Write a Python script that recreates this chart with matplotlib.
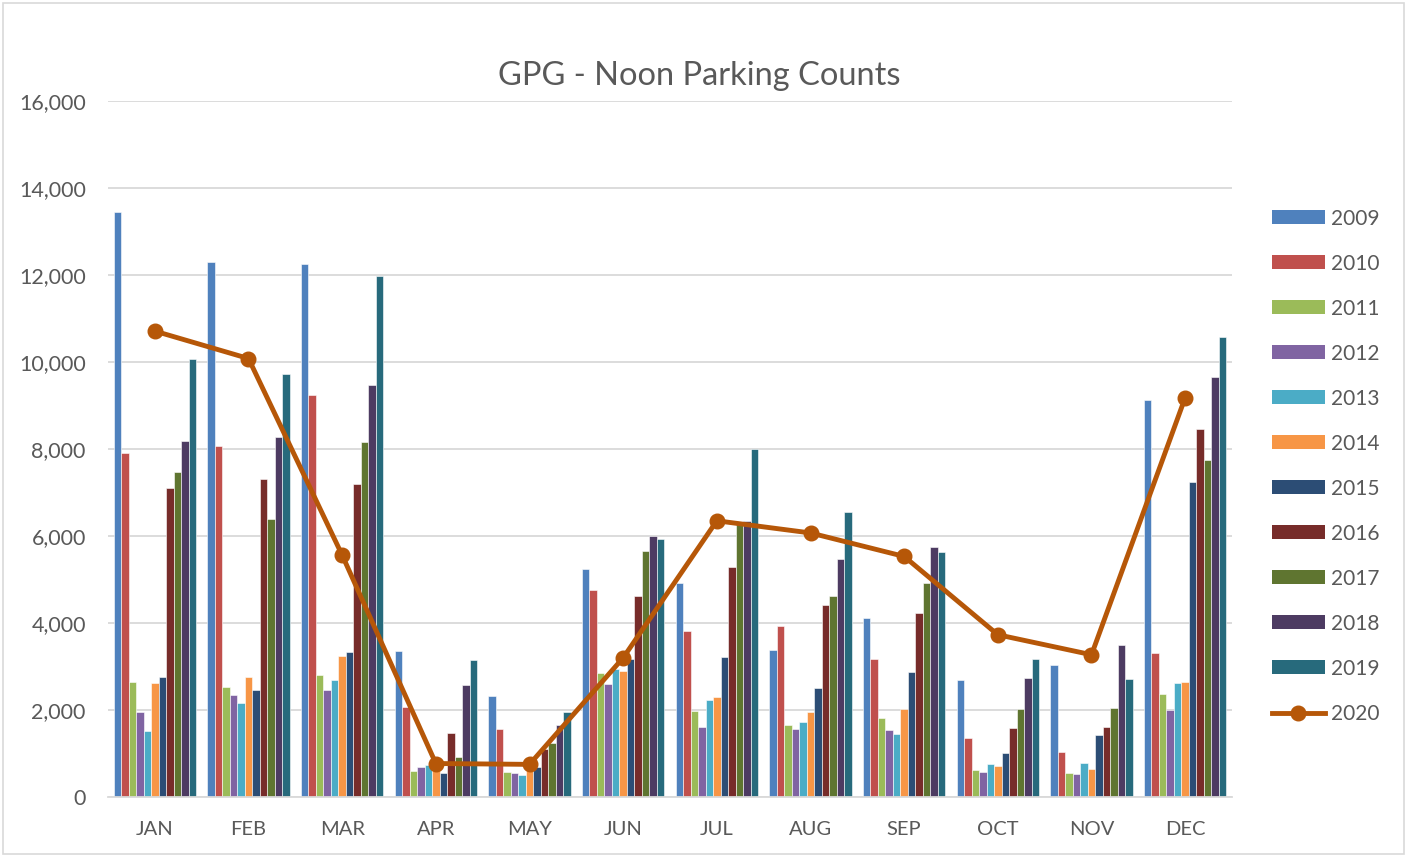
import matplotlib
matplotlib.use('Agg')
import matplotlib.pyplot as plt
from matplotlib.patches import Rectangle, Patch
from matplotlib.lines import Line2D
from matplotlib.ticker import FuncFormatter
import numpy as np

plt.rcParams['font.family'] = ['Lato', 'DejaVu Sans']

# 月份
months = ['JAN', 'FEB', 'MAR', 'APR', 'MAY', 'JUN',
          'JUL', 'AUG', 'SEP', 'OCT', 'NOV', 'DEC']

# 2009-2019 柱状数据
bar_years = ['2009', '2010', '2011', '2012', '2013', '2014',
             '2015', '2016', '2017', '2018', '2019']
y2009 = [13450, 12310, 12250, 3350, 2320, 5230, 4930, 3390, 4110, 2700, 3030, 9120]
y2010 = [7900, 8060, 9230, 2060, 1570, 4770, 3810, 3940, 3170, 1360, 1030, 3310]
y2011 = [2650, 2530, 2800, 600, 580, 2840, 1980, 1650, 1820, 610, 560, 2360]
y2012 = [1960, 2340, 2450, 680, 560, 2590, 1610, 1570, 1540, 570, 520, 1990]
y2013 = [1520, 2170, 2680, 740, 510, 2950, 2220, 1720, 1440, 750, 780, 2630]
y2014 = [2620, 2770, 3240, 800, 700, 2900, 2290, 1960, 2020, 710, 650, 2650]
y2015 = [2750, 2460, 3330, 550, 690, 3180, 3210, 2500, 2880, 1020, 1430, 7250]
y2016 = [7100, 7310, 7190, 1470, 1100, 4610, 5290, 4410, 4230, 1590, 1620, 8450]
y2017 = [7460, 6400, 8150, 930, 1250, 5660, 6300, 4620, 4920, 2030, 2050, 7740]
y2018 = [8180, 8270, 9470, 2580, 1660, 5990, 6350, 5480, 5750, 2730, 3490, 9650]
y2019 = [10060, 9720, 11980, 3160, 1950, 5920, 8000, 6550, 5640, 3180, 2720, 10580]
bar_values = [y2009, y2010, y2011, y2012, y2013, y2014,
              y2015, y2016, y2017, y2018, y2019]

# 2020 折线
y2020 = [10710, 10080, 5560, 770, 750, 3200, 6350, 6070, 5530, 3730, 3270, 9180]

bar_colors = ['#4F81BD', '#C0504D', '#9BBB59', '#8064A2', '#4BACC6', '#F79646',
              '#2C4D75', '#772C2A', '#5F7530', '#4D3B62', '#276A7C']
line_color = '#B65708'
text_color = '#595959'
grid_color = '#D9D9D9'

fig = plt.figure(figsize=(14.08, 8.57), dpi=100)
ax = fig.add_axes([108 / 1408, 1 - 797 / 857, (1232 - 108) / 1408, (797 - 101) / 857])

x = np.arange(len(months))
bw = 1 / 12.5
for i, (yr, vals) in enumerate(zip(bar_years, bar_values)):
    ax.bar(x + (i - 5) * bw, vals, width=bw, color=bar_colors[i],
           edgecolor='white', linewidth=0.4, zorder=2)

ax.plot(x, y2020, color=line_color, linewidth=3.5, marker='o',
        markersize=10.5, zorder=3)

ax.set_xlim(-0.5, 11.5)
ax.set_ylim(0, 16000)
ax.set_yticks(range(0, 16001, 2000))
ax.yaxis.set_major_formatter(FuncFormatter(lambda v, p: f'{int(v):,}'))
ax.set_xticks(x)
ax.set_xticklabels(months)
ax.tick_params(axis='both', length=0, colors=text_color)
ax.tick_params(axis='y', pad=16, labelsize=15.5)
ax.tick_params(axis='x', pad=17, labelsize=14.5)
ax.grid(True, axis='y', color=grid_color, linewidth=1.3, zorder=0)
ax.set_axisbelow(True)
for s in ['top', 'right', 'left']:
    ax.spines[s].set_visible(False)
ax.spines['bottom'].set_color(grid_color)
ax.spines['bottom'].set_linewidth(1.3)

fig.text(699 / 1408, 1 - 76 / 857, 'GPG - Noon Parking Counts',
         ha='center', va='center', fontsize=23.5, color=text_color)

handles = [Patch(facecolor=c, edgecolor='none') for c in bar_colors]
handles.append(Line2D([0], [0], color=line_color, linewidth=3.5,
                      marker='o', markersize=10.5))
labels = bar_years + ['2020']
fig.legend(handles, labels, loc='upper left',
           bbox_to_anchor=(1253 / 1408, 1 - 190 / 857), frameon=False,
           fontsize=15, labelcolor=text_color, handlelength=2.55,
           handleheight=0.66, labelspacing=1.20, handletextpad=0.3)

# 外框
fig.patches.append(Rectangle((0.002, 0.003), 0.995, 0.994, transform=fig.transFigure,
                             fill=False, edgecolor=grid_color, linewidth=1.2))

fig.savefig('out.png', dpi=100, facecolor='white')
